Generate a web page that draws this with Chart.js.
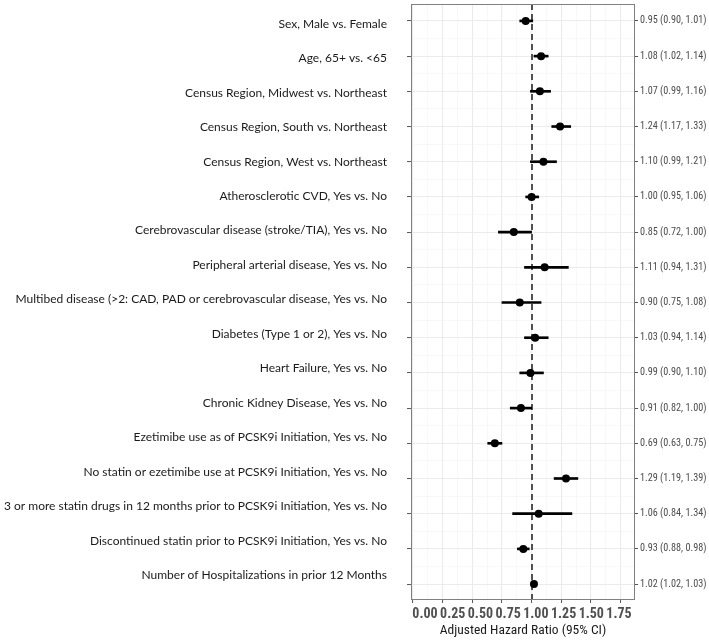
<!DOCTYPE html>
<html><head><meta charset="utf-8">
<script src="https://cdn.jsdelivr.net/npm/chart.js@4/dist/chart.umd.min.js"></script>
<style>html,body{margin:0;padding:0;background:#fff}#wrap{width:709px;height:640px}</style>
</head><body><div id="wrap"><canvas id="c" width="709" height="640"></canvas></div>
<script>
const categories = [
  'Sex, Male vs. Female',
  'Age, 65+ vs. <65',
  'Census Region, Midwest vs. Northeast',
  'Census Region, South vs. Northeast',
  'Census Region, West vs. Northeast',
  'Atherosclerotic CVD, Yes vs. No',
  'Cerebrovascular disease (stroke/TIA), Yes vs. No',
  'Peripheral arterial disease, Yes vs. No',
  'Multibed disease (>2: CAD, PAD or cerebrovascular disease, Yes vs. No',
  'Diabetes (Type 1 or 2), Yes vs. No',
  'Heart Failure, Yes vs. No',
  'Chronic Kidney Disease, Yes vs. No',
  'Ezetimibe use as of PCSK9i Initiation, Yes vs. No',
  'No statin or ezetimibe use at PCSK9i Initiation, Yes vs. No',
  '3 or more statin drugs in 12 months prior to PCSK9i Initiation, Yes vs. No',
  'Discontinued statin prior to PCSK9i Initiation, Yes vs. No',
  'Number of Hospitalizations in prior 12 Months'
];
const hazardRatio = [0.95, 1.08, 1.07, 1.24, 1.10, 1.00, 0.85, 1.11, 0.90, 1.03, 0.99, 0.91, 0.69, 1.29, 1.06, 0.93, 1.02];
const ciLower     = [0.90, 1.02, 0.99, 1.17, 0.99, 0.95, 0.72, 0.94, 0.75, 0.94, 0.90, 0.82, 0.63, 1.19, 0.84, 0.88, 1.02];
const ciUpper     = [1.01, 1.14, 1.16, 1.33, 1.21, 1.06, 1.00, 1.31, 1.08, 1.14, 1.10, 1.00, 0.75, 1.39, 1.34, 0.98, 1.03];
const xTickValues = [0, 0.25, 0.5, 0.75, 1, 1.25, 1.5, 1.75];
const referenceValue = 1;
const xAxisTitle = 'Adjusted Hazard Ratio (95% CI)';

const rowIdx = categories.map((_, i) => i + 1);
const ciLabels = hazardRatio.map((v, i) => v.toFixed(2) + ' (' + ciLower[i].toFixed(2) + ', ' + ciUpper[i].toFixed(2) + ')');

const NARROW = '"Roboto Condensed", "DejaVu Sans Condensed", sans-serif';
const GRID_MAJOR = '#ebebeb', GRID_MINOR = '#f4f4f4', TICK = '#555555';
const PANEL_TOP = 1;
const tv = c => (c && c.tick) ? c.tick.value : 0;
const isInt = v => Math.abs(v - Math.round(v)) < 1e-9;
const isQuarter = v => Math.abs(v * 4 - Math.round(v * 4)) < 1e-9;
function stepTicks(scale, step) {
  const out = [];
  const s = Math.ceil(scale.min / step - 1e-9);
  for (let k = s; k * step <= scale.max + 1e-9; k++) out.push({ value: +(k * step).toFixed(6) });
  scale.ticks = out;
}
const noPad = s => { s.paddingTop = 0; s.paddingBottom = 0; s.paddingLeft = 0; s.paddingRight = 0; };

const refLinePlugin = {
  id: 'refLine',
  beforeDatasetsDraw(chart) {
    const { ctx, chartArea, scales } = chart;
    const px = Math.round(scales.x.getPixelForValue(referenceValue));
    ctx.save();
    ctx.strokeStyle = '#505050'; ctx.lineWidth = 2; ctx.setLineDash([6, 4]);
    ctx.beginPath(); ctx.moveTo(px, chartArea.top); ctx.lineTo(px, chartArea.bottom); ctx.stroke();
    ctx.restore();
  }
};
const panelBorderPlugin = {
  id: 'panelBorder',
  afterDatasetsDraw(chart) {
    const { ctx, chartArea: a } = chart;
    ctx.save(); ctx.strokeStyle = '#808080'; ctx.lineWidth = 1;
    ctx.strokeRect(a.left + 0.5, a.top + 0.5, a.right - a.left - 1, a.bottom - a.top - 1);
    ctx.restore();
  }
};

const chart = new Chart(document.getElementById('c'), {
  type: 'scatter',
  data: {
    datasets: [
      { type: 'bar', indexAxis: 'y', xAxisID: 'x', yAxisID: 'y',
        data: rowIdx.map(r => ({ x: [ciLower[r - 1], ciUpper[r - 1]], y: r })),
        backgroundColor: '#000000', borderWidth: 0, barThickness: 2, order: 2 },
      { type: 'scatter', indexAxis: 'x', xAxisID: 'x', yAxisID: 'y',
        data: rowIdx.map(r => ({ x: hazardRatio[r - 1], y: r })),
        pointRadius: 4, pointBackgroundColor: '#000000', pointBorderWidth: 0, order: 1 }
    ]
  },
  options: {
    responsive: false, devicePixelRatio: 1, animation: false,
    layout: { padding: { top: PANEL_TOP, left: 0, right: 0, bottom: 0 } },
    plugins: { legend: { display: false }, tooltip: { enabled: false } },
    scales: {
      x: { type: 'linear', position: 'bottom', weight: 0, min: -0.017, max: 1.872, offset: false,
        afterBuildTicks: s => stepTicks(s, 0.125), ticks: { display: false },
        grid: { offset: false, color: c => isQuarter(tv(c)) ? GRID_MAJOR : GRID_MINOR, lineWidth: c => isQuarter(tv(c)) ? 1.1 : 0.6,
          drawTicks: true, tickLength: 3, tickColor: c => isQuarter(tv(c)) ? TICK : 'rgba(0,0,0,0)', tickWidth: 1 },
        border: { display: false }, afterFit: s => { s.height = 3; noPad(s); } },
      xL: { type: 'linear', position: 'bottom', weight: 1, min: -0.1263, max: 1.8943, offset: false,
        afterBuildTicks: s => { s.ticks = xTickValues.map(v => ({ value: v })); },
        ticks: { autoSkip: false, minRotation: 0, maxRotation: 0, padding: 3, font: { family: NARROW, size: 14, weight: 'bold' }, color: '#505050', callback: v => Number(v).toFixed(2) },
        grid: { display: false, drawTicks: false }, border: { display: false },
        title: { display: true, text: xAxisTitle, color: '#1a1a1a', font: { family: NARROW, size: 13.5 }, padding: { top: 0, bottom: 1 } },
        afterFit: s => { s.height = 37; noPad(s); } },
      y: { type: 'linear', position: 'left', weight: 0, reverse: true, min: 0.519, max: 17.452, offset: false,
        afterBuildTicks: s => stepTicks(s, 0.5), ticks: { display: false },
        grid: { offset: false, color: c => isInt(tv(c)) ? GRID_MAJOR : GRID_MINOR, lineWidth: c => isInt(tv(c)) ? 1.1 : 0.6,
          drawTicks: true, tickLength: 4, tickColor: c => isInt(tv(c)) ? TICK : 'rgba(0,0,0,0)', tickWidth: 1 },
        border: { display: false }, afterFit: s => { s.width = 4; noPad(s); } },
      yL: { type: 'linear', position: 'left', weight: 1, reverse: true, min: 0.4224, max: 17.722, offset: false,
        afterBuildTicks: s => { s.ticks = rowIdx.map(r => ({ value: r })); },
        ticks: { autoSkip: false, padding: 20, font: { family: 'Lato', size: 12 }, color: '#1a1a1a', callback: v => categories[v - 1] },
        grid: { display: false, drawTicks: false }, border: { display: false },
        afterFit: s => { s.width = 407; noPad(s); } },
      yR: { type: 'linear', position: 'right', weight: 0, reverse: true, min: 0.519, max: 17.452, offset: false,
        afterBuildTicks: s => { s.ticks = rowIdx.map(r => ({ value: r })); },
        ticks: { autoSkip: false, padding: 2, font: { family: NARROW, size: 10.2 }, color: '#4d4d4d', callback: v => ciLabels[v - 1] },
        grid: { offset: false, drawOnChartArea: false, drawTicks: true, tickLength: 3, tickColor: TICK },
        border: { display: false }, afterFit: s => { s.width = 74; noPad(s); } }
    }
  },
  plugins: [refLinePlugin, panelBorderPlugin]
});
// keep the panel's top edge where the reference has it
const extraTop = chart.chartArea.top - PANEL_TOP;
if (Math.abs(extraTop) > 0.25) {
  chart.options.layout.padding.top = PANEL_TOP - extraTop;
  chart.update();
}
</script>
</body></html>
